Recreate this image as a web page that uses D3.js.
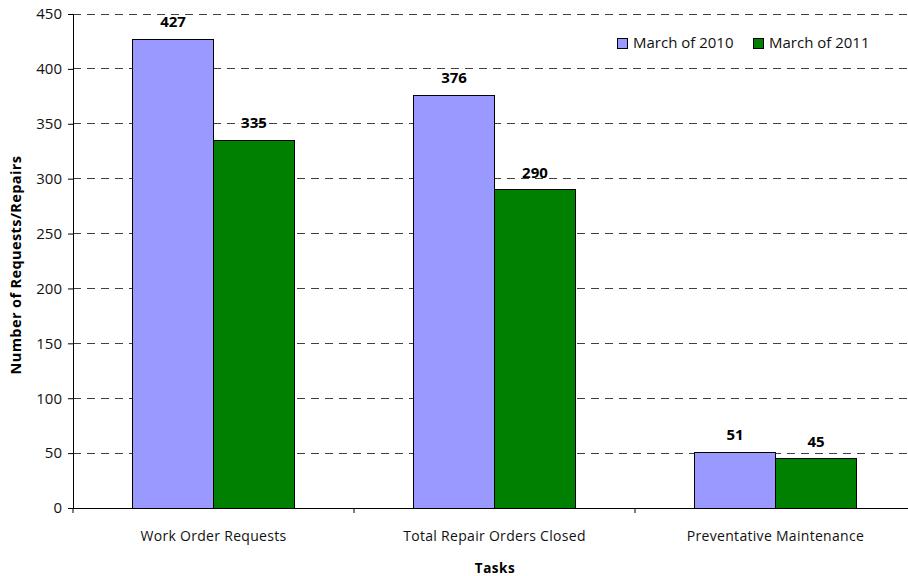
<!DOCTYPE html>
<html><head><meta charset="utf-8">
<script src="https://cdn.jsdelivr.net/npm/d3@7"></script>
<style>body{margin:0;background:#fff}svg{display:block;font-family:"Open Sans",Lato,sans-serif}</style>
</head><body><svg id="c" width="908" height="576"></svg>
<script>
const categories = ["Work Order Requests", "Total Repair Orders Closed", "Preventative Maintenance"];
const seriesNames = ["March of 2010", "March of 2011"];
const march2010 = [427, 376, 51];
const march2011 = [335, 290, 45];
const seriesColors = ["#9999FF", "#008000"];
const yTicks = [0, 50, 100, 150, 200, 250, 300, 350, 400, 450];

const svg = d3.select("#c");
const m = {left: 73, top: 14};
const W = 843, H = 494;
const g = svg.append("g").attr("transform", `translate(${m.left},${m.top})`);

const x0 = d3.scaleBand().domain(categories).range([0, W]).paddingInner(0).paddingOuter(0);
const x1 = d3.scaleBand().domain(seriesNames).range([0, x0.bandwidth()]).paddingOuter(0.735).paddingInner(0);
const y = d3.scaleLinear().domain([0, 450]).range([H, 0]);

// gridlines
g.append("g").selectAll("line").data(yTicks.filter(d => d > 0)).join("line")
  .attr("x1", 0).attr("x2", W).attr("y1", d => y(d)).attr("y2", d => y(d))
  .attr("stroke", "#404040").attr("stroke-width", 1).attr("stroke-dasharray", "8,6")
  .attr("shape-rendering", "crispEdges");

const series = [march2010, march2011];
const data = categories.map((c, i) => ({c, vals: seriesNames.map((s, j) => ({s, j, v: series[j][i]}))}));

const grp = g.selectAll(".grp").data(data).join("g").attr("transform", d => `translate(${x0(d.c)},0)`);
grp.selectAll("rect").data(d => d.vals).join("rect")
  .attr("x", d => x1(d.s)).attr("width", x1.bandwidth())
  .attr("y", d => y(d.v)).attr("height", d => H - y(d.v))
  .attr("fill", d => seriesColors[d.j]).attr("stroke", "#000").attr("stroke-width", 1)
  .attr("shape-rendering", "crispEdges");
grp.selectAll("text").data(d => d.vals).join("text")
  .attr("x", d => x1(d.s) + x1.bandwidth() / 2).attr("y", d => y(d.v) - 12)
  .attr("text-anchor", "middle").attr("font-weight", "bold").attr("font-size", 15).attr("fill", "#000")
  .text(d => d.v);

// y axis
const ya = g.append("g").call(d3.axisLeft(y).tickValues(yTicks).tickSize(5).tickPadding(6));
ya.select(".domain").attr("stroke", "#000");
ya.selectAll("text").attr("font-size", 15).attr("font-family", "'Open Sans',sans-serif").attr("fill", "#111");
ya.selectAll("line").attr("stroke", "#000");

// x axis
const xa = g.append("g").attr("transform", `translate(0,${H})`);
xa.append("line").attr("x1", 0).attr("x2", W).attr("stroke", "#000").attr("shape-rendering", "crispEdges");
xa.selectAll(".tk").data(d3.range(categories.length + 1)).join("line")
  .attr("x1", i => i * x0.bandwidth()).attr("x2", i => i * x0.bandwidth())
  .attr("y1", 0).attr("y2", 5).attr("stroke", "#000");
xa.selectAll(".lb").data(categories).join("text")
  .attr("x", d => x0(d) + x0.bandwidth() / 2).attr("y", 33)
  .attr("text-anchor", "middle").attr("font-size", 14).attr("letter-spacing", 0.3).attr("fill", "#111").text(d => d);

// axis titles
svg.append("text").attr("x", 495).attr("y", 573).attr("text-anchor", "middle")
  .attr("font-weight", "bold").attr("font-size", 13.5).attr("letter-spacing", 0.5).text("Tasks");
svg.append("text").attr("transform", `translate(21,${m.top + H / 2 + 4}) rotate(-90)`)
  .attr("text-anchor", "middle").attr("font-weight", "bold").attr("font-size", 14.5).attr("letter-spacing", 0.4)
  .text("Number of Requests/Repairs");

// legend
const leg = svg.append("g").attr("transform", "translate(617,43)");
const li = leg.selectAll("g").data(seriesNames).join("g").attr("transform", (d, i) => `translate(${i * 136},0)`);
li.append("rect").attr("x", 0).attr("y", -5).attr("width", 10).attr("height", 10)
  .attr("fill", (d, i) => seriesColors[i]).attr("stroke", "#000").attr("shape-rendering", "crispEdges");
li.append("text").attr("x", 16).attr("y", 5).attr("font-size", 15).attr("fill", "#111").text(d => d);
</script></body></html>
